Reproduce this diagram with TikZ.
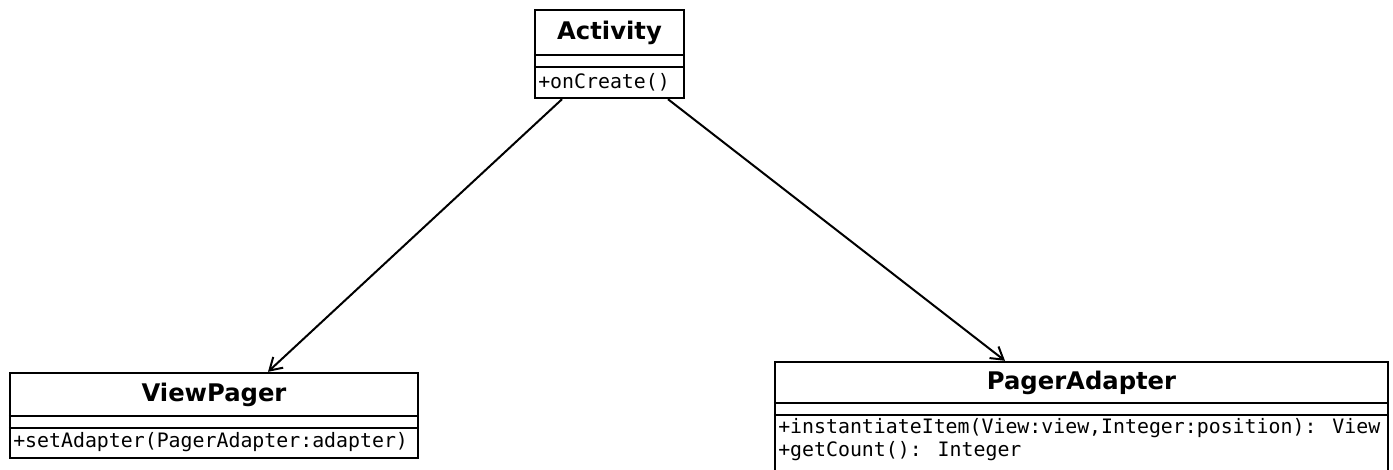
\documentclass[tikz,border=0pt]{standalone}
\usepackage{fontspec}
\newfontfamily\titlefont{DejaVu Sans}
\newfontfamily\codefont{DejaVu Sans Mono}
\usetikzlibrary{arrows.meta}
\tikzset{
  classbox/.style={draw, line width=1.8pt, rectangle, inner sep=0pt, fill=white},
  divider/.style={line width=1.8pt},
  classname/.style={font=\titlefont\bfseries\fontsize{18.2pt}{20pt}\selectfont, inner sep=0pt},
  member/.style={font=\codefont\fontsize{14.9pt}{16pt}\selectfont, inner sep=0pt, anchor=west},
  assoc/.style={line width=1.5pt, -{Straight Barb[length=9pt,width=11pt,line width=1.5pt]}}
}
\begin{document}
\begin{tikzpicture}[x=0.75pt,y=-0.75pt]
\useasboundingbox (0,0) rectangle (1393,469);

% Activity class
\node[classbox, minimum width=111.75pt, minimum height=66pt] (act) at (609.5,54) {};
\draw[divider] (act.west |- 0,55) -- (act.east |- 0,55);
\draw[divider] (act.west |- 0,67) -- (act.east |- 0,67);
\node[classname] (actname) at (609.5,33) {Activity};
\node[member] (actm1) at (538,82) {+onCreate()};

% ViewPager class
\node[classbox, minimum width=306pt, minimum height=63.75pt] (vp) at (214,415.5) {};
\draw[divider] (vp.west |- 0,416) -- (vp.east |- 0,416);
\draw[divider] (vp.west |- 0,428) -- (vp.east |- 0,428);
\node[classname] (vpname) at (214,395) {ViewPager};
\node[member] (vpm1) at (13,442) {+setAdapter(PagerAdapter:adapter)};

% PagerAdapter class (runs past the lower edge)
\node[classbox, minimum width=459.75pt, minimum height=103.5pt] (pa) at (1081.5,431) {};
\draw[divider] (pa.west |- 0,403) -- (pa.east |- 0,403);
\draw[divider] (pa.west |- 0,415) -- (pa.east |- 0,415);
\node[classname] (paname) at (1081.5,383) {PagerAdapter};
\node[member] (pam1) at (778,428) {+instantiateItem(View:view,Integer:position): View};
\node[member] (pam2) at (778,451) {+getCount(): Integer};

% associations
\draw[assoc] (act.south -| 562,0) -- (vp.north -| 268,0);
\draw[assoc] (act.south -| 668,0) -- (pa.north -| 1005,0);
\end{tikzpicture}
\end{document}
